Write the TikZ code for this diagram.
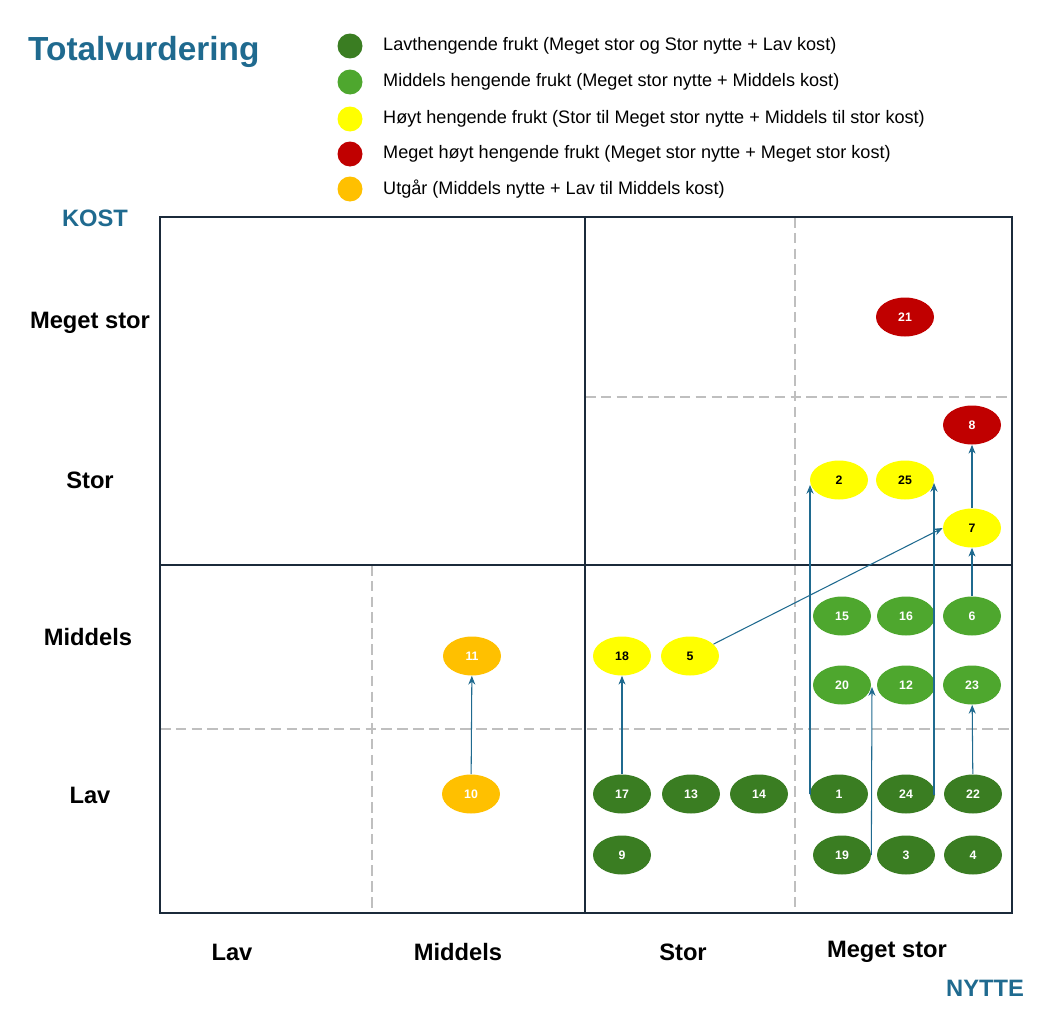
\documentclass[tikz,border=0pt]{standalone}
\usepackage{fontspec}
\setmainfont{Liberation Sans}
\usetikzlibrary{arrows.meta,shapes.geometric}
\definecolor{dg}{HTML}{3A7D22}
\definecolor{lg}{HTML}{4EA72E}
\definecolor{yl}{HTML}{FFFF00}
\definecolor{rd}{HTML}{C00000}
\definecolor{og}{HTML}{FFC000}
\definecolor{bl}{HTML}{1F6A8F}
\definecolor{ln}{HTML}{1B2A3A}
\begin{document}
\begin{tikzpicture}[x=0.02cm,y=-0.02cm,
 el/.style={ellipse,minimum width=1.16cm,minimum height=0.78cm,inner sep=0pt,font=\fontsize{7}{8}\selectfont\bfseries},
 D/.style={el,fill=dg,text=white},G/.style={el,fill=lg,text=white},
 Y/.style={el,fill=yl,text=black},R/.style={el,fill=rd,text=white},O/.style={el,fill=og,text=white},
 ar/.style={draw=bl,line width=0.6pt,-{Stealth[length=5pt,width=4pt]}},
 dsh/.style={draw=gray!50,line width=1pt,dash pattern=on 6pt off 3pt},
 lab/.style={font=\fontsize{13.5}{15}\selectfont\bfseries},
 leg/.style={anchor=west,font=\fontsize{10.3}{12}\selectfont},
 dot/.style={circle,minimum size=0.5cm,inner sep=0pt}]
\useasboundingbox (0,0) rectangle (1052,1028);
% grid
\draw[dsh] (372,565) -- (372,913);
\draw[dsh] (795,217) -- (795,913);
\draw[dsh] (585,397) -- (1012,397);
\draw[dsh] (160,729) -- (1012,729);
\draw[ln,line width=1.2pt] (160,217) rectangle (1012,913);
\draw[ln,line width=1.2pt] (585,217) -- (585,913);
\draw[ln,line width=1.2pt] (160,565) -- (1012,565);
% title & legend
\node[anchor=west,text=bl,font=\fontsize{19}{22}\selectfont\bfseries] (title) at (22,52) {Totalvurdering};
\node[dot,fill=dg] (l1) at (350,46) {}; \node[leg] (t1) at (377,46) {Lavthengende frukt (Meget stor og Stor nytte + Lav kost)};
\node[dot,fill=lg] (l2) at (350,82) {}; \node[leg] (t2) at (377,82) {Middels hengende frukt (Meget stor nytte + Middels kost)};
\node[dot,fill=yl] (l3) at (350,119) {}; \node[leg] (t3) at (377,119) {Høyt hengende frukt (Stor til Meget stor nytte + Middels til stor kost)};
\node[dot,fill=rd] (l4) at (350,154) {}; \node[leg] (t4) at (377,154) {Meget høyt hengende frukt (Meget stor nytte + Meget stor kost)};
\node[dot,fill=og] (l5) at (350,189) {}; \node[leg] (t5) at (377,189) {Utgår (Middels nytte + Lav til Middels kost)};
% axis labels
\node[lab,text=bl] (kost) at (95,218) {KOST};
\node[lab,text=bl] (nytte) at (985,988) {NYTTE};
\node[lab] (k1) at (90,323) {Meget stor};
\node[lab] (k2) at (90,480) {Stor};
\node[lab] (k3) at (88,637) {Middels};
\node[lab] (k4) at (90,795) {Lav};
\node[lab] (n1) at (232,952) {Lav};
\node[lab] (n2) at (458,952) {Middels};
\node[lab] (n3) at (683,952) {Stor};
\node[lab] (n4) at (887,952) {Meget stor};
% nodes
\node[R] (n21) at (905,317) {21};
\node[R] (n8) at (972,425) {8};
\node[Y] (n2b) at (839,480) {2};
\node[Y] (n25) at (905,480) {25};
\node[Y] (n7) at (972,528) {7};
\node[G] (n15) at (842,616) {15};
\node[G] (n16) at (906,616) {16};
\node[G] (n6) at (972,616) {6};
\node[Y] (n18) at (622,656) {18};
\node[Y] (n5) at (690,656) {5};
\node[O] (n11) at (472,656) {11};
\node[G] (n20) at (842,685) {20};
\node[G] (n12) at (906,685) {12};
\node[G] (n23) at (972,685) {23};
\node[O] (n10) at (471,794) {10};
\node[D] (n17) at (622,794) {17};
\node[D] (n13) at (691,794) {13};
\node[D] (n14) at (759,794) {14};
\node[D] (n1b) at (839,794) {1};
\node[D] (n24) at (906,794) {24};
\node[D] (n22) at (973,794) {22};
\node[D] (n9) at (622,855) {9};
\node[D] (n19) at (842,855) {19};
\node[D] (n3) at (906,855) {3};
\node[D] (n4) at (973,855) {4};
% arrows
\coordinate (c1) at (810,485);
\coordinate (c24) at (934,483);
\coordinate (c19) at (872,687);
\draw[ar] (n10) -- (n11);
\draw[ar] (n17) -- (n18);
\draw[ar] (n5) -- (n7.west);
\draw[ar] (n6) -- (n7);
\draw[ar] (n7) -- (n8);
\draw[ar] (n22) -- (n23);
\draw[ar] (n1b.west) -| (c1);
\draw[ar] (n24.east) -| (c24);
\draw[ar] (n19.east) -- (c19);
\end{tikzpicture}
\end{document}
